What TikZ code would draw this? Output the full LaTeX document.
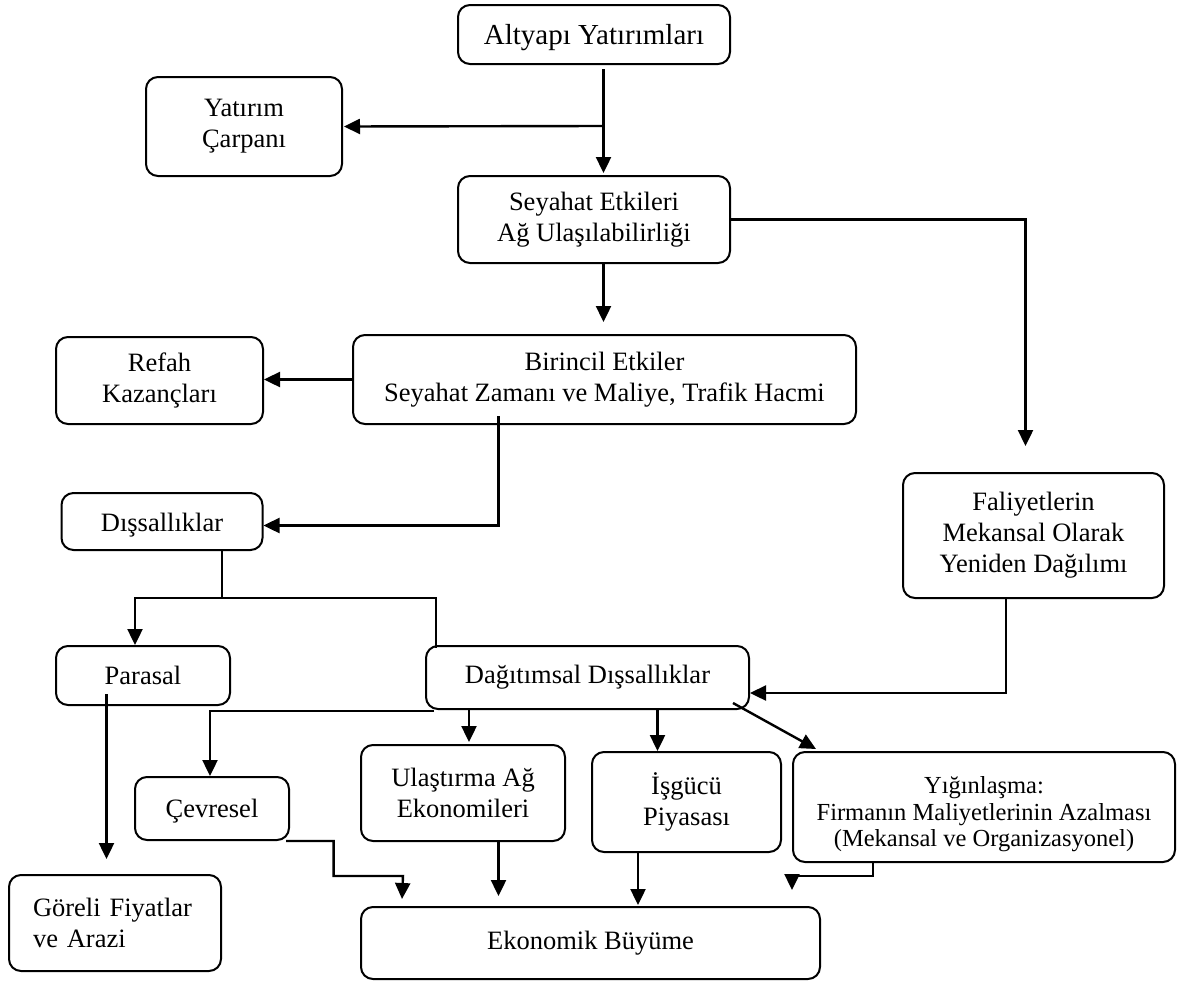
\documentclass[tikz,border=0pt]{standalone}
\usepackage{fontspec}
\setmainfont{Liberation Serif}
\usetikzlibrary{arrows.meta,calc}
\newcommand\mainsz{\fontsize{26.5}{31}\selectfont}
\newcommand\bigsz{\fontsize{29}{33}\selectfont}
\newcommand\smallsz{\fontsize{24.5}{26.5}\selectfont}
\tikzset{
  box/.style={draw, line width=2pt, rounded corners=12pt, align=center, inner sep=0pt, font=\mainsz},
  conn/.style={line width=2.4pt},
  arr/.style={line width=2.4pt, -{Triangle[length=16pt,width=15pt]}},
}
\begin{document}
\begin{tikzpicture}[x=1pt,y=-1pt]
\useasboundingbox (0,0) rectangle (1177,985);
\node[box, minimum width=272pt, minimum height=59pt, font=\bigsz] (alt) at (594,34.5) {\rule{0pt}{26pt}Altyapı Yatırımları};
\node[box, minimum width=196pt, minimum height=99pt] (yat) at (244,126.5) {Yatırım\\Çarpanı};
\node[box, minimum width=272pt, minimum height=87pt] (sey) at (594,219.5) {Seyahat Etkileri\\Ağ Ulaşılabilirliği};
\node[box, minimum width=503pt, minimum height=89pt] (bir) at (604.5,379.5) {Birincil Etkiler\\Seyahat Zamanı ve Maliye, Trafik Hacmi};
\node[box, minimum width=207pt, minimum height=87pt] (ref) at (159.5,380.5) {Refah\\Kazançları};
\node[box, minimum width=201pt, minimum height=57pt] (dis) at (162,521.5) {\rule{0pt}{25pt}Dışsallıklar};
\node[box, minimum width=261pt, minimum height=125pt] (fal) at (1033.5,535.5) {Faliyetlerin\\Mekansal Olarak\\Yeniden Dağılımı};
\node[box, minimum width=174pt, minimum height=59pt] (par) at (143,675.5) {Parasal};
\node[box, minimum width=323pt, minimum height=63pt] (dag) at (587.5,677.5) {Dağıtımsal Dışsallıklar};
\node[box, minimum width=154pt, minimum height=63pt] (cev) at (212,808.5) {\rule{0pt}{24pt}Çevresel};
\node[box, minimum width=204pt, minimum height=96pt] (ula) at (463,793) {Ulaştırma Ağ\\Ekonomileri};
\node[box, minimum width=189pt, minimum height=100pt] (isg) at (686.5,802) {İşgücü\\Piyasası};
\node[box, minimum width=382pt, minimum height=110pt, font=\smallsz] (yig) at (984,807) {\rule{0pt}{32pt}Yığınlaşma:\\Firmanın Maliyetlerinin Azalması\\(Mekansal ve Organizasyonel)};
\node[box, minimum width=212pt, minimum height=96pt, align=left, text width=164pt, inner xsep=24pt] (gor) at (115,923) {Göreli Fiyatlar\\ve Arazi};
\node[box, minimum width=459pt, minimum height=72pt] (eko) at (590.5,943) {Ekonomik Büyüme};

% connectors
\coordinate (j1) at (603.5,126);
\draw[arr] ([xshift=9.5pt,yshift=-4pt]alt.south) -- ([xshift=9.5pt,yshift=2pt]sey.north);
\draw[arr] (j1) -- ([xshift=1pt]yat.east);
\draw[arr] (sey.east) -| ([xshift=-8pt,yshift=26pt]fal.north);
\draw[arr] ([xshift=9.5pt]sey.south) -- ([xshift=-1pt,yshift=12pt]bir.north);
\draw[arr] (bir.west) -- (bir.west -| ref.east);
\draw[arr] ([xshift=-106pt,yshift=9pt]bir.south) |- ([yshift=-4pt]dis.east);
\coordinate (j2) at (222,598);
\draw[conn] ([xshift=60pt]dis.south) -- (j2);
\draw[arr] (j2) -| ([xshift=-8pt]par.north);
\draw[conn] (j2) -| ([xshift=11pt,yshift=-3pt]dag.north west);
\draw[arr] ([xshift=-27.5pt]fal.south) |- ([yshift=-15.5pt]dag.east);
\draw[arr] ([xshift=-36.5pt,yshift=12pt]par.south) -- ([xshift=-8.5pt,yshift=15pt]gor.north);
\coordinate (j3) at ([xshift=9pt,yshift=-1pt]dag.south west);
\draw[arr] (j3) -| ([xshift=-2pt]cev.north);
\draw[arr] ([xshift=-118.5pt]dag.south) -- ([xshift=6pt,yshift=2pt]ula.north);
\draw[arr] ([xshift=70pt]dag.south) -- ([xshift=-29pt]isg.north);
\draw[arr] ([xshift=-17pt,yshift=7pt]dag.south east) -- ([xshift=24pt,yshift=2pt]yig.north west);
\draw[arr] ([xshift=-4pt]cev.south east) -- ++(47.6,0) -- ++(0,35) -- ++(69.4,0) -- ([xshift=-188.5pt,yshift=7pt]eko.north);
\draw[arr] ([xshift=35.5pt]ula.south) -- ([xshift=-92pt,yshift=10pt]eko.north);
\draw[arr] ([xshift=-48.5pt]isg.south) -- ([xshift=47.5pt,yshift=1pt]eko.north);
\draw[arr] ([xshift=-111pt]yig.south) -- ++(0,13) -| ([xshift=201.5pt,yshift=16pt]eko.north);
\end{tikzpicture}
\end{document}
